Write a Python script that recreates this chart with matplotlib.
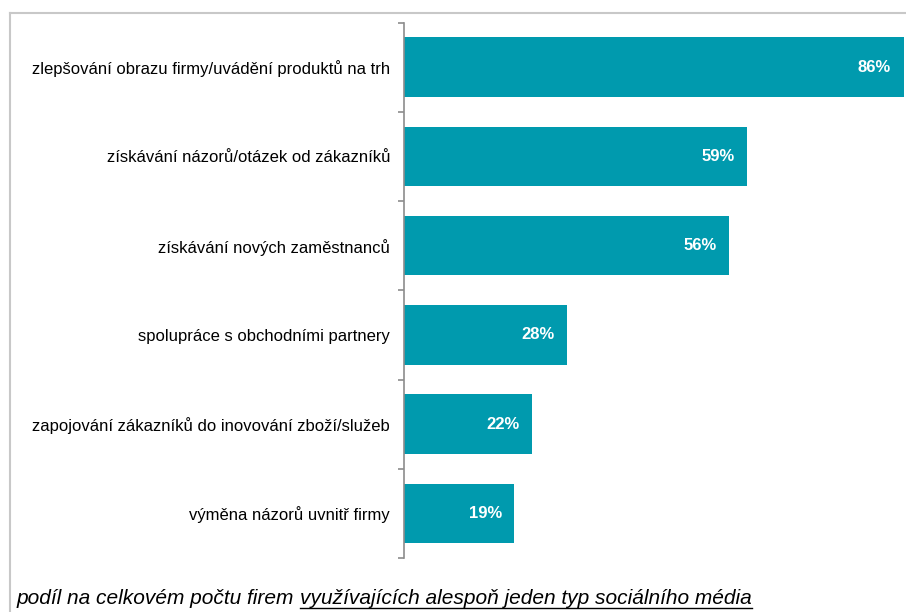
import matplotlib
matplotlib.use("Agg")
import matplotlib.pyplot as plt
from matplotlib.lines import Line2D

plt.rcParams['font.family'] = ['Liberation Sans', 'DejaVu Sans']

categories = [
    "zlepšování obrazu firmy/uvádění produktů na trh",
    "získávání názorů/otázek od zákazníků",
    "získávání nových zaměstnanců",
    "spolupráce s obchodními partnery",
    "zapojování zákazníků do inovování zboží/služeb",
    "výměna názorů uvnitř firmy",
]
values = [86, 59, 56, 28, 22, 19]
value_labels = ["86%", "59%", "56%", "28%", "22%", "19%"]
note_plain = "podíl na celkovém počtu firem "
note_underlined = "využívajících alespoň jeden typ sociálního média"

W, H = 906, 612
fig = plt.figure(figsize=(W / 100, H / 100), dpi=100)

# frame border
fig.add_artist(Line2D([9.5 / W, 9.5 / W], [0, 1 - 13 / H], color="#c8c8c8", lw=1.5))
fig.add_artist(Line2D([9.5 / W, 1.0], [1 - 13 / H, 1 - 13 / H], color="#c8c8c8", lw=1.5))

ax_left, ax_right = 404 / W, 906 / W
ax_top, ax_bot = 1 - 22.5 / H, 1 - 558 / H
ax = fig.add_axes([ax_left, ax_bot, ax_right - ax_left, ax_top - ax_bot])

color = "#009AAE"
ypos = list(range(len(categories)))
ax.barh(ypos, values, height=0.665, color=color, zorder=2)
ax.set_ylim(len(categories) - 0.5, -0.5)
ax.set_xlim(0, 86.4)

for y, v, lab in zip(ypos, values, value_labels):
    ax.annotate(lab, (v, y), xytext=(-9, 0), textcoords="offset points",
                ha="right", va="center", color="white", fontsize=12,
                fontweight="bold", zorder=3)

for s in ["top", "right", "bottom"]:
    ax.spines[s].set_visible(False)
ax.spines["left"].set_color("#8c8c8c")
ax.spines["left"].set_linewidth(1.2)
ax.set_xticks([])
ax.set_yticks(ypos)
ax.set_yticklabels(categories, fontsize=12, color="#000000")
ax.tick_params(axis="y", which="major", length=0, pad=10)
ax.set_yticks([i - 0.5 for i in range(len(categories) + 1)], minor=True)
ax.tick_params(axis="y", which="minor", length=4, width=1.2, color="#8c8c8c", direction="out")
ax.patch.set_alpha(0)

# footnote with underlined part
fs = 15
t1 = fig.text(17 / W, 1 - 598 / H, note_plain, fontsize=fs, style="italic",
              va="center", ha="left", color="#000000")
fig.canvas.draw()
r = fig.canvas.get_renderer()
bb1 = t1.get_window_extent(r)
t2 = fig.text(bb1.x1 / W, 1 - 598 / H, note_underlined, fontsize=fs, style="italic",
              va="center", ha="left", color="#000000")
fig.canvas.draw()
bb2 = t2.get_window_extent(r)
uy = (H - 608) / H
fig.add_artist(Line2D([bb2.x0 / W, bb2.x1 / W], [uy, uy], color="#000000", lw=1.0))

fig.savefig("out.png", dpi=100, facecolor="white")
